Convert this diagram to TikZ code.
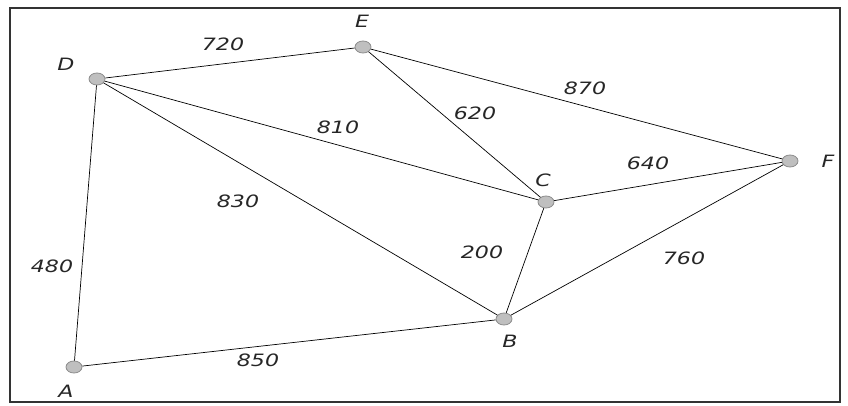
\documentclass[tikz,border=0pt]{standalone}
\usepackage{fontspec}
\usetikzlibrary{shapes.geometric}
\newfontfamily\labfont[FakeStretch=1.3]{DejaVu Sans}
\begin{document}
\begin{tikzpicture}[x=1pt,y=-1pt,
  vtx/.style={ellipse,draw=black!45,fill=black!25,minimum width=16pt,minimum height=12pt,inner sep=0pt,line width=0.8pt},
  edge/.style={draw=black,line width=0.7pt},
  lab/.style={font=\labfont\itshape\fontsize{17}{17}\selectfont,text=black!85,inner sep=0pt}]
\useasboundingbox (0,0) rectangle (848,406);
\draw[line width=1.2pt,black!80] (10,8) rectangle (840,402);
\node[vtx] (D) at (97,79) {};
\node[vtx] (E) at (363,47) {};
\node[vtx] (F) at (790,161) {};
\node[vtx] (C) at (546,202) {};
\node[vtx] (B) at (504,319) {};
\node[vtx] (A) at (74,367) {};
\node[lab] (lD) at (66,64) {D};
\node[lab] (lE) at (362,21) {E};
\node[lab] (lF) at (828,161) {F};
\node[lab] (lC) at (543,180) {C};
\node[lab] (lB) at (510,341) {B};
\node[lab] (lA) at (66,391) {A};
\draw[edge] (D) -- (E);
\draw[edge] (D) -- (C);
\draw[edge] (D) -- (B);
\draw[edge] (D) -- (A);
\draw[edge] (E) -- (C);
\draw[edge] (E) -- (F);
\draw[edge] (C) -- (F);
\draw[edge] (C) -- (B);
\draw[edge] (B) -- (F);
\draw[edge] (A) -- (B);
\node[lab] (w1) at (223,44) {720};
\node[lab] (w2) at (585,88) {870};
\node[lab] (w3) at (475,113) {620};
\node[lab] (w4) at (338,127) {810};
\node[lab] (w5) at (648,163) {640};
\node[lab] (w6) at (238,201) {830};
\node[lab] (w7) at (482,252) {200};
\node[lab] (w8) at (684,258) {760};
\node[lab] (w9) at (52,266) {480};
\node[lab] (w10) at (258,360) {850};
\end{tikzpicture}
\end{document}
